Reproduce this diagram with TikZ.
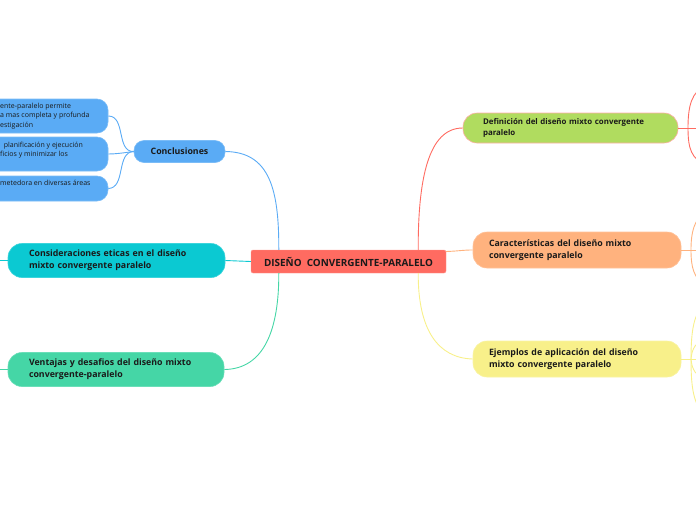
\documentclass[tikz,border=0pt]{standalone}
\usepackage{fontspec}
\setmainfont{Open Sans}
\definecolor{cred}{HTML}{FF6B61}
\definecolor{cblue}{HTML}{5AABF5}
\definecolor{ccyan}{HTML}{0BC9D2}
\definecolor{cgreen}{HTML}{45D6A6}
\definecolor{clime}{HTML}{B0DC5F}
\definecolor{corange}{HTML}{FFB27E}
\definecolor{cyellow}{HTML}{F8F08A}
\definecolor{ctext}{HTML}{1A1A1A}
\tikzset{
  topic/.style={rounded corners=14pt, inner ysep=0pt, align=left, text=ctext,
    font=\bfseries\fontsize{8.8}{12}\selectfont, line width=0.6pt},
  small/.style={font=\bfseries\fontsize{7.9}{10.5}\selectfont},
  leafbox/.style={rounded corners=11pt, fill=cblue, draw=cblue!80!white, line width=0.6pt,
    minimum width=150pt, inner sep=0pt},
  leaftext/.style={anchor=west, align=left, inner sep=0pt, text=ctext,
    font=\fontsize{7}{9.6}\selectfont},
  link/.style={line width=0.9pt},
}
\begin{document}
\begin{tikzpicture}[x=1pt,y=-1pt]
\useasboundingbox (0,0) rectangle (696,520);
\clip (0,0) rectangle (696,520);
% central
\node[fill=cred, draw=cred!70!white, rounded corners=2pt, minimum width=195pt, minimum height=23pt,
  inner sep=0pt, text=ctext, font=\bfseries\fontsize{9.9}{11}\selectfont] (c) at (348.5,261.5) {DISEÑO\ \ CONVERGENTE-PARALELO};
% left topics
\node[topic, fill=cblue, draw=cblue!80!white, rounded corners=10pt, minimum width=91pt, minimum height=22pt,
  inner xsep=0pt, align=center] (concl) at (179.5,151.5) {Conclusiones};
\node[topic, fill=ccyan, draw=ccyan!80!white, minimum height=34pt, text width=175pt, inner xsep=21pt] (cons) at (116.5,260.5)
  {Consideraciones eticas en el diseño\\mixto convergente paralelo};
\node[topic, fill=cgreen, draw=cgreen!80!white, minimum height=34pt, text width=174pt, inner xsep=21pt] (vent) at (116,369.5)
  {Ventajas y desafios del diseño mixto\\convergente-paralelo};
% right topics
\node[topic, small, fill=clime, draw=cred!55!white, minimum height=30pt, text width=175pt, inner xsep=20pt] (defi) at (570.5,128)
  {Definición del diseño mixto convergente\\paralelo};
\node[topic, fill=corange, draw=corange!80!white, minimum height=36pt, text width=176pt, inner xsep=16pt] (cara) at (577,250)
  {Características del diseño mixto\\convergente paralelo};
\node[topic, fill=cyellow, draw=cyellow!80!white, minimum height=36pt, text width=176pt, inner xsep=16pt] (ejem) at (577,359)
  {Ejemplos de aplicación del diseño\\mixto convergente paralelo};
% leaves of Conclusiones
\node[leafbox, minimum height=34pt] (l1) at (33,116) {};
\node[leafbox, minimum height=34pt] (l2) at (33,154) {};
\node[leafbox, minimum height=25pt] (l3) at (33,188.5) {};
\node[leaftext] (t1) at (0,116) {ente-paralelo permite\\a mas completa y profunda\\estigación};
\node[leaftext] (t2) at (0,154) {\ \ planificación y ejecución\\ficios y minimizar los\\\mbox{}};
\node[leaftext] (t3) at (0,188) {metedora en diversas áreas\\\mbox{}};
% connectors center
\draw[link, cblue] ([xshift=28pt]c.north west) .. controls (279,190) and (270,152) .. (concl.east);
\draw[link, ccyan] (c.west) -- (cons.east);
\draw[link, cgreen] ([xshift=28pt]c.south west) .. controls (279,330) and (264,369) .. (vent.east);
\draw[link, cred] ([xshift=-28pt]c.north east) .. controls (418,180) and (428,128) .. (defi.west);
\draw[link, corange] ([yshift=10pt]c.east) .. controls (460,251) and (462,250) .. (cara.west);
\draw[link, cyellow] ([xshift=-28pt]c.south east) .. controls (418,330) and (438,358) .. (ejem.west);
% connectors conclusiones leaves
\draw[link, cblue] (concl.west) .. controls (116,152) and (126,116) .. (l1.east);
\draw[link, cblue] (concl.west) .. controls (122,153) and (116,154) .. (l2.east);
\draw[link, cblue] (concl.west) .. controls (116,152) and (126,188) .. (l3.east);
% left stubs
\coordinate (cs) at (-5,260.5);
\coordinate (vs) at (-5,369.5);
\draw[link, ccyan] (cons.west) -- (cs);
\draw[link, cgreen] (vent.west) -- (vs);
% right stubs
\coordinate (d0) at (688,128);
\coordinate (d1) at (705,86);
\coordinate (d2) at (705,165);
\coordinate (d3) at (705,128);
\draw[link, cred] (defi.east) -- (d3);
\draw[link, cred] (d0) .. controls (688,105) and (692,92) .. (d1);
\draw[link, cred] (d0) .. controls (688,150) and (692,158) .. (d2);
\coordinate (k0) at (691,250);
\coordinate (k1) at (705,212);
\coordinate (k2) at (705,285);
\coordinate (k3) at (705,250);
\draw[link, corange] (cara.east) -- (k3);
\draw[link, corange] (k0) .. controls (691,232) and (694,220) .. (k1);
\draw[link, corange] (k0) .. controls (691,268) and (694,278) .. (k2);
\coordinate (e0) at (691,359);
\coordinate (e1) at (705,305);
\coordinate (e2) at (705,415);
\coordinate (e3) at (705,340);
\coordinate (e4) at (705,378);
\coordinate (e5) at (705,359);
\draw[link, cyellow] (ejem.east) -- (e5);
\draw[link, cyellow] (e0) .. controls (691,330) and (694,312) .. (e1);
\draw[link, cyellow] (e0) .. controls (691,390) and (694,405) .. (e2);
\draw[link, cyellow] (e0) .. controls (692,348) and (696,342) .. (e3);
\draw[link, cyellow] (e0) .. controls (692,370) and (696,376) .. (e4);
\end{tikzpicture}
\end{document}
